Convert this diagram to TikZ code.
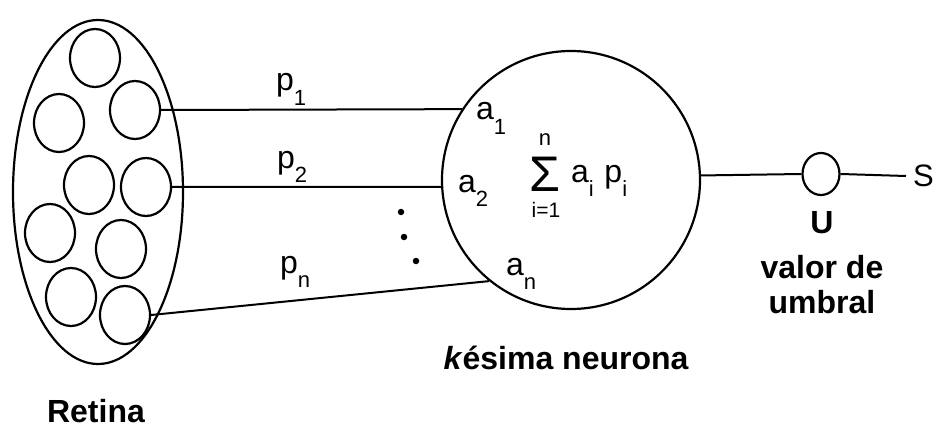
\documentclass[tikz,border=0pt]{standalone}
\usepackage{fontspec}
\setmainfont{Liberation Sans}
\usepackage{tikz}
\usetikzlibrary{positioning,shapes.geometric}
\newcommand\lbsub[1]{\raisebox{-0.45em}{\fontsize{22}{22}\selectfont #1}}

\begin{document}
\begin{tikzpicture}[
  x=1pt,y=-1pt,
  line width=2.2pt,
  cell/.style={draw,ellipse,minimum width=50pt,minimum height=58pt,inner sep=0pt},
  ret/.style={draw,ellipse,minimum width=170pt,minimum height=344pt,inner sep=0pt},
  neu/.style={draw,circle,minimum size=258pt,inner sep=0pt},
  thr/.style={draw,ellipse,minimum width=37pt,minimum height=42pt,inner sep=0pt},
  wire/.style={line width=2pt},
  dot/.style={fill,circle,minimum size=6.5pt,inner sep=0pt},
  lbl/.style={font=\fontsize{32}{32}\selectfont,inner sep=0pt,anchor=base west},
  capt/.style={font=\fontsize{32}{35}\selectfont\bfseries,inner sep=0pt,anchor=base,align=center}
]
\useasboundingbox (0,0) rectangle (946,428);
% retina with its cells
\node[ret] (R) at (98,192) {};
\node[cell] (c1) at (95,58)  {};
\node[cell] (c2) at (135,110) {};
\node[cell] (c3) at (59,123) {};
\node[cell] (c4) at (89,185) {};
\node[cell] (c5) at (146,187) {};
\node[cell] (c6) at (50,233) {};
\node[cell] (c7) at (121,249) {};
\node[cell] (c8) at (71,297) {};
\node[cell] (c9) at (125,315) {};
% k-th neuron and threshold
\node[neu] (N) at (571,180) {};
\node[thr] (U) at (821,174) {};
\node[font=\fontsize{31}{31}\selectfont,inner sep=0pt,anchor=west] (S) at (912,176) {S};
% inputs
\draw[wire] (c2.east) -- (N.147);
\draw[wire] (c5.east) -- (N.183);
\draw[wire] (c9.east) -- (N.231);
% output
\draw[wire] (N.2) -- (U.west);
\draw[wire] (U.east) -- ([xshift=-6pt]S.west);
% the dots between p2 and pn
\node[dot] (d1) at (401,212) {};
\node[dot] (d2) at (404,237) {};
\node[dot] (d3) at (416,261) {};
% weights and inputs
\node[lbl] (p1) at (275,91)  {p\lbsub{1}};
\node[lbl] (p2) at (276,168) {p\lbsub{2}};
\node[lbl] (pn) at (279,273) {p\lbsub{n}};
\node[lbl] (a1) at (475,120) {a\lbsub{1}};
\node[lbl] (a2) at (457,192) {a\lbsub{2}};
\node[lbl] (an) at (505,275) {a\lbsub{n}};
% weighted sum
\node[font=\fontsize{50}{50}\selectfont,inner sep=0pt,anchor=base] (sum) at (545,191) {Σ};
\node[font=\fontsize{22}{22}\selectfont,inner sep=0pt,anchor=base] (top) at (545,146) {n};
\node[font=\fontsize{21}{21}\selectfont,inner sep=0pt] (bot) at (546,210) {i=1};
\node[lbl] (ap) at (570,182) {a\lbsub{i}\,\,p\lbsub{i}};
% captions
\node[capt] (uu) at (822,233) {U};
\node[capt] (vu) at (822,313) {valor de\\umbral};
\node[capt] (kn) at (566,369) {\textit{k}ésima neurona};
\node[capt] (rt) at (96,422) {Retina};
\end{tikzpicture}
\end{document}
